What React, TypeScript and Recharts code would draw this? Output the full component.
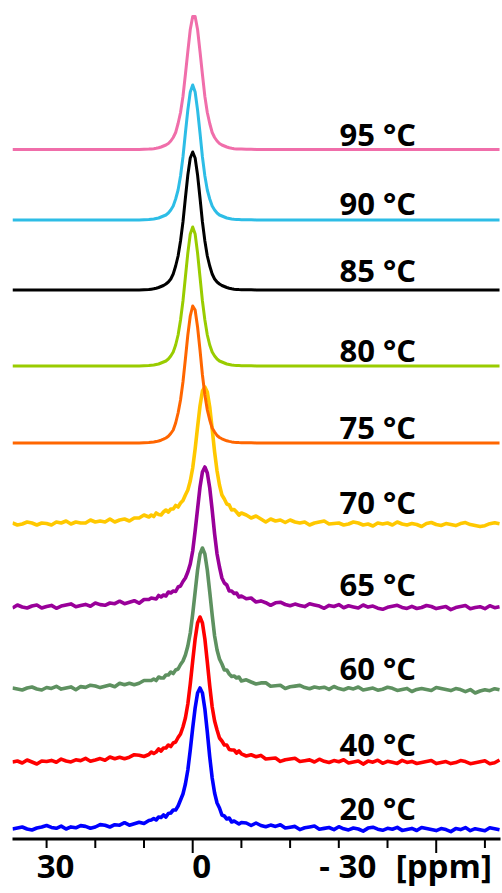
import { LineChart, Line, XAxis, YAxis, ReferenceDot } from "recharts";

// chemical shift grid (ppm): 1 ppm steps on the wings, 0.5 ppm around the peak
const PPM = [
  37, 36, 35, 34, 33, 32, 31, 30, 29, 28, 27, 26, 25, 24, 23, 22, 21, 20, 19, 18, 17, 16, 15, 14, 13, 12, 11, 10, 9,
  8.5, 8, 7.5, 7, 6.5, 6, 5.5, 5, 4.5, 4, 3.5, 3, 2.5, 2, 1.5, 1, 0.5, 0, -0.5, -1, -1.5, -2, -2.5, -3, -3.5, -4,
  -4.5, -5, -5.5, -6, -6.5, -7, -7.5, -8, -8.5, -9, -9.5, -10,
  -11, -12, -13, -14, -15, -16, -17, -18, -19, -20, -21, -22, -23, -24, -25, -26, -27, -28, -29, -30,
  -31, -32, -33, -34, -35, -36, -37, -38, -39, -40, -41, -42, -43, -44, -45, -46, -47, -48, -49, -50,
  -51, -52, -53, -54, -55, -56, -57, -58, -59, -60, -61, -62, -63,
];

// intensities (a.u.), one array per temperature
const I_95 = [
  0, 0, 0, 0, 0, 0, 0, 0, 0, 0, 0, 0, 0, 0, 0, 0, 0, 0, 0, 0, 0, 0, 0, 0, 0, 0, 0, 0.3, 0.4,
  0.6, 0.8, 1.2, 1.7, 2.5, 3.5, 4.5, 6, 8.5, 12, 17, 26, 37, 53, 75, 98, 120, 133,
  133, 120, 98, 75, 53, 37, 26, 17, 12, 8.5, 6, 4.5, 3.5, 2.5, 1.7, 1.2, 0.8, 0.6, 0.5, 0.4,
  0.3, 0.2, 0.1, 0, 0, 0, 0, 0, 0, 0, 0, 0, 0, 0, 0, 0, 0, 0, 0, 0, 0, 0, 0, 0, 0, 0, 0, 0, 0, 0,
  0, 0, 0, 0, 0, 0, 0, 0, 0, 0, 0, 0, 0, 0, 0, 0, 0, 0, 0, 0, 0, 0, 0,
];
const I_90 = [
  0, 0, 0, 0, 0, 0, 0, 0, 0, 0, 0, 0, 0, 0, 0, 0, 0, 0, 0, 0, 0, 0, 0, 0, 0, 0, 0, 0.3, 0.4,
  0.7, 1, 1.5, 2, 3, 4, 5, 7, 10, 14, 21, 30, 44, 63, 87, 110, 128, 135,
  128, 110, 87, 63, 44, 30, 21, 14, 10, 7, 5, 4, 3, 2, 1.5, 1, 0.7, 0.5, 0.4, 0.3,
  0.3, 0.2, 0.1, 0, 0, 0, 0, 0, 0, 0, 0, 0, 0, 0, 0, 0, 0, 0, 0, 0, 0, 0, 0, 0, 0, 0, 0, 0, 0, 0,
  0, 0, 0, 0, 0, 0, 0, 0, 0, 0, 0, 0, 0, 0, 0, 0, 0, 0, 0, 0, 0, 0, 0,
];
const I_85 = [
  0, 0, 0, 0, 0, 0, 0, 0, 0, 0, 0, 0, 0, 0, 0, 0, 0, 0, 0, 0, 0, 0, 0, 0, 0, 0, 0, 0.3, 0.4,
  0.8, 1.2, 1.8, 2.5, 3.5, 4.5, 6, 8, 11, 16, 24, 34, 49, 68, 92, 115, 132, 138,
  132, 115, 92, 68, 49, 34, 24, 16, 11, 8, 6, 4.5, 3.5, 2.5, 1.8, 1.2, 0.8, 0.6, 0.4, 0.3,
  0.3, 0.2, 0.1, 0, 0, 0, 0, 0, 0, 0, 0, 0, 0, 0, 0, 0, 0, 0, 0, 0, 0, 0, 0, 0, 0, 0, 0, 0, 0, 0,
  0, 0, 0, 0, 0, 0, 0, 0, 0, 0, 0, 0, 0, 0, 0, 0, 0, 0, 0, 0, 0, 0, 0,
];
const I_80 = [
  0, 0, 0, 0, 0, 0, 0, 0, 0, 0, 0, 0, 0, 0, 0, 0, 0, 0, 0, 0, 0, 0, 0, 0, 0, 0, 0, 0.3, 0.4,
  0.7, 1, 1.5, 2, 3, 4, 5, 7, 10, 14, 21, 31, 46, 65, 89, 113, 132, 139,
  132, 113, 89, 65, 46, 31, 21, 14, 10, 7, 5, 4, 3, 2, 1.5, 1, 0.7, 0.5, 0.4, 0.3,
  0.3, 0.2, 0.1, 0, 0, 0, 0, 0, 0, 0, 0, 0, 0, 0, 0, 0, 0, 0, 0, 0, 0, 0, 0, 0, 0, 0, 0, 0, 0, 0,
  0, 0, 0, 0, 0, 0, 0, 0, 0, 0, 0, 0, 0, 0, 0, 0, 0, 0, 0, 0, 0, 0, 0,
];
const I_75 = [
  0, 0, 0, 0, 0, 0, 0, 0, 0, 0, 0, 0, 0, 0, 0, 0, 0, 0, 0, 0, 0, 0, 0, 0, 0, 0, 0, 0.3, 0.4,
  0.7, 1, 1.4, 2, 2.8, 3.8, 5, 6.8, 9.5, 13, 20, 30, 43, 61, 84, 108, 127, 137,
  133, 116, 93, 68, 48, 33, 23, 15, 11, 7.5, 5.5, 4.2, 3.2, 2.2, 1.6, 1.1, 0.8, 0.6, 0.4, 0.3,
  0.3, 0.2, 0.1, 0, 0, 0, 0, 0, 0, 0, 0, 0, 0, 0, 0, 0, 0, 0, 0, 0, 0, 0, 0, 0, 0, 0, 0, 0, 0, 0,
  0, 0, 0, 0, 0, 0, 0, 0, 0, 0, 0, 0, 0, 0, 0, 0, 0, 0, 0, 0, 0, 0, 0,
];
const I_70 = [
  2, 0, 1, 3, 2, 0, 2, 1.5, 0, 3, 2, 4, 1, 3, 2, 2, 5, 3, 4, 3, 6, 3, 5, 6, 4, 7, 7, 10, 8,
  10, 8.5, 12, 10.5, 10, 13, 15, 13, 16, 16, 19.5, 18, 22, 24.5, 30, 35, 44, 57, 76, 98, 119, 134, 138,
  133, 118, 96, 73, 54, 40, 30, 26, 21, 20, 15, 15.5, 13, 10, 12,
  10, 7, 9, 6, 3, 6, 4, 5, 2.5, 5, 3, 2, 3, 0, 2, 3, 4, 1, 1.5, 2,
  0, 1, 3, 2, 0, 1, -1, 2, 1, 2, 0, 3, 1, 0, 1.5, 0.5, -1.5, 1.5, 2.5, 0.5,
  -0.5, 1.4, 0.4, -0.6, 1.4, 2.4, 0.4, -0.6, -1.6, -0.7, 1.3, 2.3, 1.3,
];
const I_65 = [
  0, 3, 1, 0, 2, 3, 0, 1.5, 2.6, -0.3, 1.9, 3, 4.1, 1.2, 2.4, 3.6, 1.8, 5, 3.4, 2.7, 5, 4.3, 6.8, 4.3, 5.8, 7.3, 4.8, 8.5, 8.5,
  10, 9.5, 9, 12.5, 11, 13, 12, 16, 15, 17, 16.5, 21, 22, 26.5, 30, 36, 44, 57, 77, 99, 121, 136, 141,
  135, 120, 98, 74, 54, 41, 30, 25, 23, 17, 17, 14.5, 15, 11, 12,
  9.2, 10, 6, 7.1, 5.3, 2.7, 5.2, 5.8, 3.5, 2.2, 3.9, 2.6, 1.4, 4.2, 3, 1.9, -0.3, 2.6, 1.5, 3.4,
  0.3, 2.2, 1.1, 0, 3, 0.9, 1.9, -0.2, -1.3, 0.7, 1.7, 2.7, 0.6, -0.4, 1.6, -0.5, 0.5, 2.5, 1.5, -0.6,
  0.5, 1.4, -1.6, 0.4, 1.4, 2.4, -0.7, 0.4, 1.3, -0.7, 2.3, 0.3, 1.3,
];
const I_60 = [
  2, 1, 0, 2, 3, 1, 0, 2.5, 1.6, 3.7, 0.9, 2, 3.1, 0.2, 3.4, 2.6, 4.8, 4, 2.4, 3.7, 5, 3.3, 6.8, 5.3, 6.8, 5.3, 6.8, 9.5, 9.5,
  9.5, 11, 9.5, 13, 12, 12, 15, 15, 18, 16.5, 20, 21, 25.5, 29, 35, 44, 57, 76, 98, 120, 136, 142,
  136, 120, 98, 75, 54, 40, 31, 26, 20, 20, 16, 13.5, 14, 12, 13, 9,
  10.2, 8, 6, 7.1, 7.3, 3.7, 4.2, 4.8, 1.5, 3.2, 3.9, 4.6, 2.4, 1.2, 3, 1.9, 2.8, 0.6, 3.5, 1.4,
  0.3, 2.2, 1.1, 3, 0, 0.9, 1.9, -0.2, 0.8, 2.7, 1.7, -0.4, 0.6, 1.6, -1.5, 0.6, 1.5, 0.5, -0.5, 2.5,
  1.5, 0.4, -0.6, 1.4, 0.4, -1.7, 0.4, -3, -1, 0.3, -0.7, 1.3, 0.3,
];
const I_40 = [
  1, 2, 0, 3, 1, -1, 2, 1.5, 2.6, 0.7, 3.9, 2, 1.1, 3.2, 2.4, 4.6, 1.8, 3, 4.4, 2.7, 6, 4.3, 5.8, 4.3, 5.8, 8.3, 7.8, 6.5, 8.5,
  11, 9.5, 11, 14, 12, 15, 15, 18, 16.5, 20, 21, 25.5, 29, 36, 45, 59, 79, 102, 124, 140, 146,
  140, 124, 101, 77, 56, 42, 33, 25, 22, 18, 18, 13.5, 13, 13, 10, 12, 9.2,
  7, 8.2, 6.3, 7.6, 4, 4.5, 5, 1.6, 3.3, 4, 4.7, 1.5, 2.3, 3.1, 1, 3.8, 1.7, 0.5, 2.4, 1.3,
  3.2, 0.1, 1.1, 2, -1.1, 1.9, 0.8, 2.8, -0.3, 1.7, 0.7, -0.4, 2.6, 0.6, 1.6, -0.5, 0.5, 1.5, 2.5, -0.6,
  0.4, 1.4, -0.6, 0.4, 2.4, 1.4, -0.7, 0.3, 1.3, 2.3, -0.7, 0.3, 3,
];
const I_20 = [
  1, 2, 3, 1, 0, 2, 3, 4.5, 2.6, 1.7, 3.9, 1, 3.1, 2.2, 4.4, 3.6, 1.8, 3, 5.4, 4.7, 3, 5.3, 4.8, 7.3, 4.8, 6.3, 7.8, 6.5, 9.5,
  10, 11.5, 10, 13, 12.5, 15, 13, 16.5, 17, 20, 20, 24, 30, 36, 46, 60, 80, 102, 122, 137, 142,
  137, 121, 98, 73, 52, 37, 27, 22, 15, 14, 11, 12, 8, 9, 7.5, 6, 7.5,
  7, 4.5, 7, 4.5, 3.2, 4.9, 3.6, 5.3, 2, 2.8, 3.6, 0.4, 2.2, 3, 3.9, 0.8, 1.6, 2.5, 0.4, 3.3,
  1.2, 0.1, 2, 1, -1.1, 1.9, 2.8, 0.8, -0.3, 1.7, 0.7, 2.6, -0.4, 0.6, 1.6, -0.5, 2.5, 1.5, 0.5, -0.6,
  1.4, 0.4, -1.6, 1.4, 0.4, 2.4, -0.7, 1.3, 0.3, -0.7, 2.3, 1.3, 0.3,
];

const TEMPS = ["95 °C", "90 °C", "85 °C", "80 °C", "75 °C", "70 °C", "65 °C", "60 °C", "40 °C", "20 °C"];
const SPECTRA = [I_95, I_90, I_85, I_80, I_75, I_70, I_65, I_60, I_40, I_20];
// stacking offset of each spectrum (same units as intensity)
const OFFSETS = [689.5, 619, 549, 473, 396, 314, 231, 149, 76, 9];

const X_TICKS = [30, 20, 10, 0, -10, -20, -30, -40, -50, -60];
const X_TICK_TEXT: Record<number, string> = { 30: "30", 0: "0", [-30]: "- 30" };

const COLORS = ["#F06EAA", "#2DBDE6", "#000000", "#99CC00", "#FF6600", "#FFC800", "#990099", "#5E9160", "#FF0000", "#0000FF"];
const WIDTHS = [3, 3, 3, 3, 3, 3.6, 3.6, 3.6, 3.6, 3.6];
const LABEL_GAP = [4, 5, 8, 4, 4, 11, 12, 10, 7, 10];
const LABEL_X = -38;
const FONT = "'Open Sans', 'DejaVu Sans', sans-serif";

const rows = PPM.map((ppm, i) => {
  const row: Record<string, number> = { ppm };
  SPECTRA.forEach((s, k) => {
    row["s" + k] = OFFSETS[k] + s[i];
  });
  return row;
});

function AxisTick(props: any) {
  const { x, y, payload } = props;
  const v = payload.value;
  const major = v === 0 || v === -50;
  const text = X_TICK_TEXT[v];
  return (
    <g>
      <line x1={x} x2={x} y1={y} y2={y + (major ? 14 : 9)} stroke="#000" strokeWidth={2} />
      {text && (
        <text x={x + 9} y={y + 39} textAnchor="middle" fontSize={33} fontWeight={700} fontFamily={FONT} fill="#000">
          {text}
        </text>
      )}
      {v === -30 && (
        <text x={x + 57} y={y + 39} textAnchor="start" fontSize={33} fontWeight={700} fontFamily={FONT} fill="#000">
          [ppm]
        </text>
      )}
    </g>
  );
}

export default function App() {
  return (
    <div style={{ position: "absolute", left: 0, top: 0, width: 502, height: 893, background: "#fff" }}>
      <LineChart width={502} height={893} data={rows} margin={{ top: 0, right: 1.5, bottom: 0, left: 12.5 }}>
        <XAxis
          dataKey="ppm"
          type="number"
          domain={[-63.2, 37]}
          reversed
          allowDataOverflow
          ticks={X_TICKS}
          interval={0}
          height={54}
          axisLine={{ stroke: "#000", strokeWidth: 3 }}
          tickLine={false}
          tickSize={0}
          tickMargin={0}
          tick={<AxisTick />}
        />
        <YAxis hide type="number" domain={[0, 839]} allowDataOverflow />
        {SPECTRA.map((_, k) => SPECTRA.length - 1 - k).map((k) => (
          <Line
            key={k}
            type="linear"
            dataKey={"s" + k}
            stroke={COLORS[k]}
            strokeWidth={WIDTHS[k]}
            strokeLinejoin="round"
            dot={false}
            isAnimationActive={false}
          />
        ))}
        {TEMPS.map((t, k) => (
          <ReferenceDot
            key={t}
            x={LABEL_X}
            y={OFFSETS[k]}
            r={0}
            fill="none"
            stroke="none"
            label={{
              value: t,
              position: "top",
              offset: LABEL_GAP[k],
              fill: "#000",
              fontSize: 31,
              fontWeight: 700,
              fontFamily: FONT,
            }}
          />
        ))}
      </LineChart>
    </div>
  );
}
